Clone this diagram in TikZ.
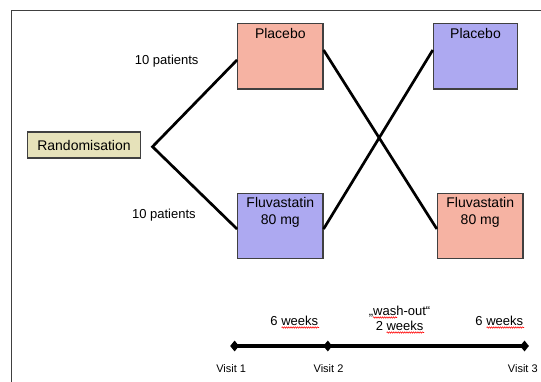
\documentclass[tikz,border=0pt]{standalone}
\usepackage{fontspec}
\setmainfont{Liberation Sans}
\usetikzlibrary{shapes.geometric,decorations.pathmorphing}
\definecolor{pinkfill}{HTML}{F6B3A3}
\definecolor{purplefill}{HTML}{ADA9F1}
\definecolor{beigefill}{HTML}{E6E2BA}
\definecolor{boxline}{HTML}{404040}
\tikzset{
  armbox/.style={draw=boxline, line width=1.2pt, minimum width=#1, minimum height=65.5pt, inner sep=0pt},
  randbox/.style={draw=boxline, line width=1.2pt, fill=beigefill, minimum width=112.8pt, minimum height=26pt, inner sep=0pt, font=\fontsize{14}{16}\selectfont},
  boxtext/.style={font=\fontsize{14}{16.7}\selectfont, align=center, inner sep=0pt, anchor=north},
  conn/.style={line width=2.7pt},
  smalltext/.style={font=\fontsize{13}{15}\selectfont, inner sep=0pt},
  visittext/.style={font=\fontsize{11}{13}\selectfont, inner sep=0pt},
  diam/.style={diamond, fill=black, minimum width=9pt, minimum height=11pt, inner sep=0pt},
  tline/.style={line width=3.2pt},
  spell/.style={red, line width=0.55pt, decorate, decoration={snake, amplitude=0.7pt, segment length=2.2pt}},
  frameline/.style={draw=boxline, line width=1pt}
}
\begin{document}
\begin{tikzpicture}[x=1pt,y=-1pt]
\useasboundingbox (0,0) rectangle (541,382);
\fill[white] (0,0) rectangle (541,382);
% frame
\draw[frameline] (11,382) -- (11,10.3) -- (541,10.3);

% nodes
\node[randbox] (rand) at (84,145) {Randomisation};
\node[armbox=85.3pt, fill=pinkfill] (pl1) at (280.3,56.3) {};
\node[armbox=85.3pt, fill=purplefill] (fl1) at (280.3,226) {};
\node[armbox=84.2pt, fill=purplefill] (pl2) at (475.5,56.3) {};
\node[armbox=85.5pt, fill=pinkfill] (fl2) at (480.2,226) {};

\node[boxtext] (pl1t) at ([yshift=-5pt]pl1.north) {Placebo};
\node[boxtext] (fl1t) at ([yshift=-5pt]fl1.north) {Fluvastatin\\80 mg};
\node[boxtext] (pl2t) at ([yshift=-5pt]pl2.north) {Placebo};
\node[boxtext] (fl2t) at ([yshift=-5pt]fl2.north) {Fluvastatin\\80 mg};

\node[smalltext] (n1) at (166.7,61) {10 patients};
\node[smalltext] (n2) at (163.9,215) {10 patients};

% connectors
\coordinate (junc) at (152.5,146.7);
\draw[conn, line join=miter] ([yshift=-3.7pt]pl1.west) -- (junc) -- ([yshift=-3pt]fl1.west);
\draw[conn] ([yshift=6.3pt]pl1.east) -- ([yshift=-3pt]fl2.west);
\draw[conn] ([yshift=-3pt]fl1.east) -- ([yshift=6.3pt]pl2.west);

% timeline
\node[diam] (v1) at (234.6,346) {};
\node[diam] (v2) at (327.8,346) {};
\node[diam] (v3) at (524.5,346) {};
\draw[tline] (v1.center) -- (v2.center) -- (v3.center);

\node[smalltext] (w1) at (294.3,321) {6 weeks};
\node[smalltext, align=center, font=\fontsize{13}{15.2}\selectfont] (wo) at (399.6,318.5) {„wash-out“\\2 weeks};
\node[smalltext] (w3) at (499.3,321) {6 weeks};

\node[visittext] (vl1) at (231.2,368.7) {Visit 1};
\node[visittext] (vl2) at (328.5,368.7) {Visit 2};
\node[visittext] (vl3) at (522.8,368.7) {Visit 3};

% spell-check underlines
\draw[spell] (281.5,327.5) -- (319,327.5);
\draw[spell] (373,317.5) -- (397,317.5);
\draw[spell] (386.5,332.5) -- (424,332.5);
\draw[spell] (486.5,327.5) -- (524,327.5);
\end{tikzpicture}
\end{document}
